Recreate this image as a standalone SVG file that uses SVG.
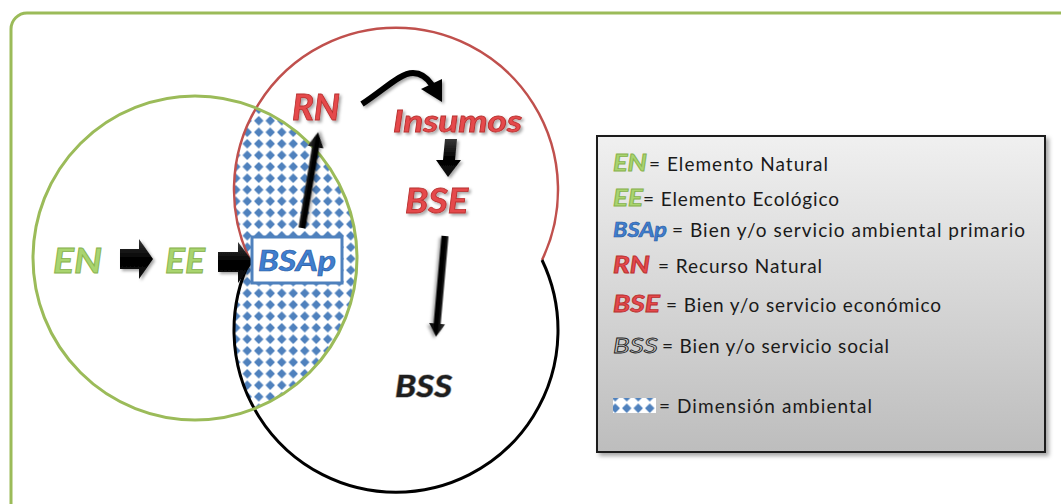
<svg xmlns="http://www.w3.org/2000/svg" width="1061" height="504" viewBox="0 0 1061 504">
<style>
.lbl{font-family:Lato,"Liberation Sans",sans-serif;font-weight:bold;font-style:italic}
.green{fill:#a9d46f;stroke:#86b24c;stroke-width:0.8}
.red{fill:#e5484c;stroke:#b8312f;stroke-width:0.8}
.blue{fill:#3f7fd0;stroke:#2a5aa0;stroke-width:0.6}
.dark{fill:#1e1e1e;stroke:#9a9a9a;stroke-width:1.2;paint-order:stroke}
.leg{font-family:Lato,"Liberation Sans",sans-serif;font-size:19px;fill:#1a1a1a}
.arrow{fill:url(#arrowGrad);filter:url(#sh)}
</style>
<defs>
<pattern id="dots" width="11.5" height="11.5" patternUnits="userSpaceOnUse">
<rect width="11.5" height="11.5" fill="#fff"/>
<polygon points="5.75,1 10.5,5.75 5.75,10.5 1,5.75" fill="#4f81bd"/>
</pattern>
<clipPath id="peanut">
<circle cx="396" cy="190" r="162"/>
<circle cx="396" cy="330" r="162"/>
</clipPath>
<linearGradient id="legGrad" x1="0" y1="0" x2="0" y2="1">
<stop offset="0" stop-color="#f0f0f0"/>
<stop offset="1" stop-color="#bdbdbd"/>
</linearGradient>
<linearGradient id="arrowGrad" x1="0" y1="0" x2="0" y2="1">
<stop offset="0" stop-color="#3a3a3a"/>
<stop offset="0.5" stop-color="#000"/>
<stop offset="1" stop-color="#111"/>
</linearGradient>
<filter id="sh" x="-30%" y="-30%" width="160%" height="160%">
<feDropShadow dx="2" dy="2" stdDeviation="1.5" flood-color="#000" flood-opacity="0.35"/>
</filter>
<filter id="boxsh" x="-5%" y="-5%" width="110%" height="110%">
<feDropShadow dx="3" dy="3" stdDeviation="2" flood-color="#000" flood-opacity="0.35"/>
</filter>
</defs>

<rect x="11" y="13" width="1100" height="540" rx="16" fill="#fff" stroke="#9bbb59" stroke-width="3"/>

<g id="regions">
<circle cx="195" cy="258" r="162" fill="url(#dots)" clip-path="url(#peanut)"/>
<path d="M250,260 A162,162 0 1 1 542,260" fill="none" stroke="#c0504d" stroke-width="2.5"/>
<path d="M542,260 A162,162 0 1 1 250,260" fill="none" stroke="#000" stroke-width="3"/>
<circle cx="195" cy="258" r="162" fill="none" stroke="#9bbb59" stroke-width="3"/>
</g>

<g id="connectors">
<polygon class="arrow" points="120,249 139,249 139,239 153,259 139,279 139,269 120,269"/>
<polygon class="arrow" points="218,252 238,252 238,242 253,262 238,283 238,272 218,272"/>
<g transform="translate(302,228) rotate(-80.5)">
<polygon class="arrow" points="0,-3.5 82,-3.5 82,-8 97,0 82,8 82,3.5 0,3.5"/>
</g>
<g filter="url(#sh)">
<path d="M362,104 C385,89 400,73 413,73 C422,73 428,79 432,85" fill="none" stroke="#000" stroke-width="6"/>
<polygon points="421,89 442,79 442,102" fill="#000"/>
</g>
<polygon class="arrow" points="445,139 457,139 455,160 461,160 448,177 436,160 443,160"/>
<g transform="translate(445,236) rotate(95.1)">
<polygon class="arrow" points="0,-3.5 88,-3.5 88,-8 101,0 88,8 88,3.5 0,3.5"/>
</g>
</g>

<g id="node-EN"><text class="lbl green" x="53" y="273" font-size="34" textLength="49" lengthAdjust="spacingAndGlyphs">EN</text></g>
<g id="node-EE"><text class="lbl green" x="165" y="273" font-size="34" textLength="40" lengthAdjust="spacingAndGlyphs">EE</text></g>
<g id="node-BSAp">
<rect x="252" y="237" width="90" height="46" fill="#fff" stroke="#4f81bd" stroke-width="3"/>
<text class="lbl blue" x="258" y="271" font-size="28" textLength="78" lengthAdjust="spacingAndGlyphs">BSAp</text>
</g>
<g id="node-RN"><text class="lbl red" x="292" y="120" font-size="36" textLength="48" lengthAdjust="spacingAndGlyphs" filter="url(#sh)">RN</text></g>
<g id="node-Insumos"><text class="lbl red" x="393" y="132" font-size="31" textLength="129" lengthAdjust="spacingAndGlyphs" filter="url(#sh)">Insumos</text></g>
<g id="node-BSE"><text class="lbl red" x="405" y="213" font-size="34" textLength="63" lengthAdjust="spacingAndGlyphs" filter="url(#sh)">BSE</text></g>
<g id="node-BSS"><text class="lbl dark" x="395" y="397" font-size="30" textLength="57" lengthAdjust="spacingAndGlyphs">BSS</text></g>

<g id="legend">
<rect x="597" y="136" width="448" height="316" fill="url(#legGrad)" stroke="#1a1a1a" stroke-width="2" filter="url(#boxsh)"/>
<text class="lbl green" x="613" y="171" font-size="22" textLength="34" lengthAdjust="spacingAndGlyphs">EN</text>
<text class="leg" x="649" y="171" textLength="179">= Elemento Natural</text>
<text class="lbl green" x="613" y="206" font-size="22" textLength="30" lengthAdjust="spacingAndGlyphs">EE</text>
<text class="leg" x="643" y="206" textLength="196">= Elemento Ecológico</text>
<text class="lbl blue" x="613" y="237" font-size="21" textLength="54" lengthAdjust="spacingAndGlyphs">BSAp</text>
<text class="leg" x="672" y="237" textLength="353">= Bien y/o servicio ambiental primario</text>
<text class="lbl red" x="613" y="273" font-size="22" textLength="37" lengthAdjust="spacingAndGlyphs">RN</text>
<text class="leg" x="658" y="273" textLength="164">= Recurso Natural</text>
<text class="lbl red" x="613" y="312" font-size="22" textLength="47" lengthAdjust="spacingAndGlyphs">BSE</text>
<text class="leg" x="666" y="312" textLength="275">= Bien y/o servicio económico</text>
<text x="613" y="353" font-size="22" textLength="45" lengthAdjust="spacingAndGlyphs" style="font-family:Lato,'Liberation Sans',sans-serif;font-style:italic;fill:#c8c8c8;stroke:#222;stroke-width:0.8">BSS</text>
<text class="leg" x="662" y="353" textLength="227">= Bien y/o servicio social</text>
<rect x="613" y="398" width="43" height="15" fill="url(#dots)"/>
<text class="leg" x="659" y="413" textLength="213">= Dimensión ambiental</text>
</g>
</svg>
